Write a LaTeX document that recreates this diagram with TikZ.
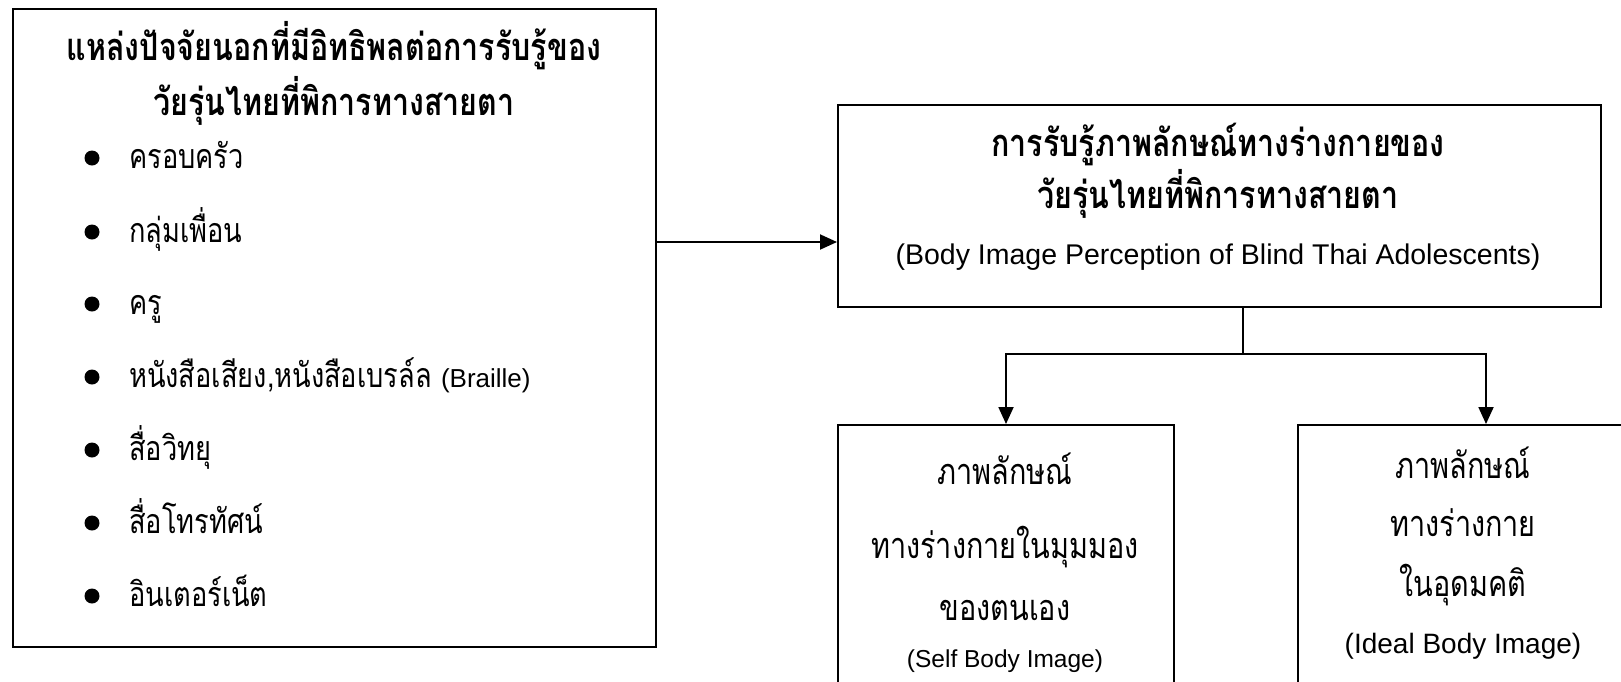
\documentclass[tikz,border=0pt]{standalone}
\usepackage{fontspec}
\setmainfont{Liberation Sans}
\newfontfamily\thai[Script=Thai,FakeStretch=0.8]{Loma}
\usetikzlibrary{arrows.meta}
\tikzset{
  frame/.style={draw=black, line width=1.9pt, inner sep=0pt, anchor=north west},
  conn/.style={draw=black, line width=1.9pt},
  arr/.style={conn, -{Triangle[length=17pt,width=15pt]}},
  dot/.style={circle, fill=black, inner sep=0pt, minimum size=15pt},
  ttl/.style={font=\thai\bfseries\fontsize{38}{40}\selectfont, inner sep=0pt, anchor=base},
  itm/.style={font=\thai\fontsize{34}{40}\selectfont, inner sep=0pt, anchor=base west},
  bt/.style={font=\thai\fontsize{36}{40}\selectfont, inner sep=0pt, anchor=base},
  lat/.style={font=\fontsize{28}{30}\selectfont, inner sep=0pt, anchor=base},
}
\begin{document}
\begin{tikzpicture}[x=1pt,y=-1pt]
\useasboundingbox (0,0) rectangle (1621,681);
\fill[white] (0,0) rectangle (1621,681);
% left box
\node[frame, minimum width=643pt, minimum height=638pt] (src) at (12,8) {};
\node[ttl] (t1) at (334,60) {แหล่งปัจจัยนอกที่มีอิทธิพลต่อการรับรู้ของ};
\node[ttl] (t2) at (334,115) {วัยรุ่นไทยที่พิการทางสายตา};
\foreach \i/\y/\t in {1/158/ครอบครัว, 2/232/กลุ่มเพื่อน, 3/304/ครู, 5/450/สื่อวิทยุ, 6/523/สื่อโทรทัศน์, 7/596/อินเตอร์เน็ต}{
  \node[dot] (b\i) at (92,\y) {};
  \node[itm] (i\i) at (129,\y+10) {\t};
}
\node[dot] (b4) at (92,377) {};
\node[itm] (i4) at (129,387) {หนังสือเสียง,หนังสือเบรล์ล \fontspec{Liberation Sans}\fontsize{26}{30}\selectfont(Braille)};
% middle box
\node[frame, minimum width=763pt, minimum height=202pt] (mid) at (837,104) {};
\node[ttl] (m1) at (1218,156) {การรับรู้ภาพลักษณ์ทางร่างกายของ};
\node[ttl] (m2) at (1218,208) {วัยรุ่นไทยที่พิการทางสายตา};
\node[lat, font=\fontsize{28.5}{30}\selectfont] (m3) at (1218,264) {(Body Image Perception of Blind Thai Adolescents)};
% bottom boxes (cut by page edge)
\node[frame, minimum width=336pt, minimum height=300pt] (self) at (837,424) {};
\node[frame, minimum width=400pt, minimum height=300pt] (ideal) at (1297,424) {};
\node[bt] (s1) at (1005,484) {ภาพลักษณ์};
\node[bt] (s2) at (1005,558) {ทางร่างกายในมุมมอง};
\node[bt] (s3) at (1005,620) {ของตนเอง};
\node[lat, font=\fontsize{24.5}{26}\selectfont] (s4) at (1005,667) {(Self Body Image)};
\node[bt] (d1) at (1463,478) {ภาพลักษณ์};
\node[bt] (d2) at (1463,536) {ทางร่างกาย};
\node[bt] (d3) at (1463,596) {ในอุดมคติ};
\node[lat] (d4) at (1463,653) {(Ideal Body Image)};
% connectors
\coordinate (jn) at (1243,354);
\draw[arr] (src.east |- 0,242) -- (mid.west |- 0,242);
\draw[conn] (mid.south -| jn) -- (jn);
\draw[arr] (jn) -| (self.north -| 1006,0);
\draw[arr] (jn) -| (ideal.north -| 1486,0);
\end{tikzpicture}
\end{document}
